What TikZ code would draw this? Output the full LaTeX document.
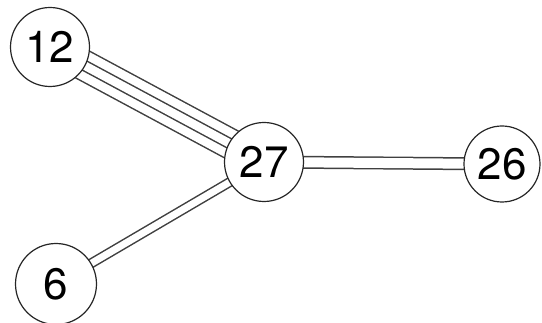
\documentclass[tikz,border=0pt]{standalone}
\usepackage{fontspec}
\setmainfont{TeX Gyre Heros}
\usetikzlibrary{backgrounds}

\begin{document}
\begin{tikzpicture}[x=1pt,y=-1pt,
  vertex/.style={circle, draw=black!85, line width=1.2pt, fill=white, minimum size=79pt, inner sep=0pt, font=\fontsize{44}{44}\selectfont},
  twoline/.style={draw=black!75, line width=1.5pt, double=white, double distance=#1},
  fourline/.style={draw=black!75, line width=31.5pt,
    postaction={draw=white, line width=28.5pt},
    postaction={draw=black!75, line width=11.5pt},
    postaction={draw=white, line width=8.5pt}}]
\useasboundingbox (0,0) rectangle (542,323);
\node[vertex] (v12) at (50,47) {12};
\node[vertex] (v27) at (264,162) {27};
\node[vertex, minimum size=76pt] (v26) at (502,164) {26};
\node[vertex, minimum size=81pt] (v6) at (56,284) {6};
\begin{pgfonlayer}{background}
\draw[fourline] (v12.center) -- (v27.center);
\draw[twoline=10pt] (v27.center) -- (v26.center);
\draw[twoline=7pt] (v27.center) -- (v6.center);
\end{pgfonlayer}
\end{tikzpicture}
\end{document}
